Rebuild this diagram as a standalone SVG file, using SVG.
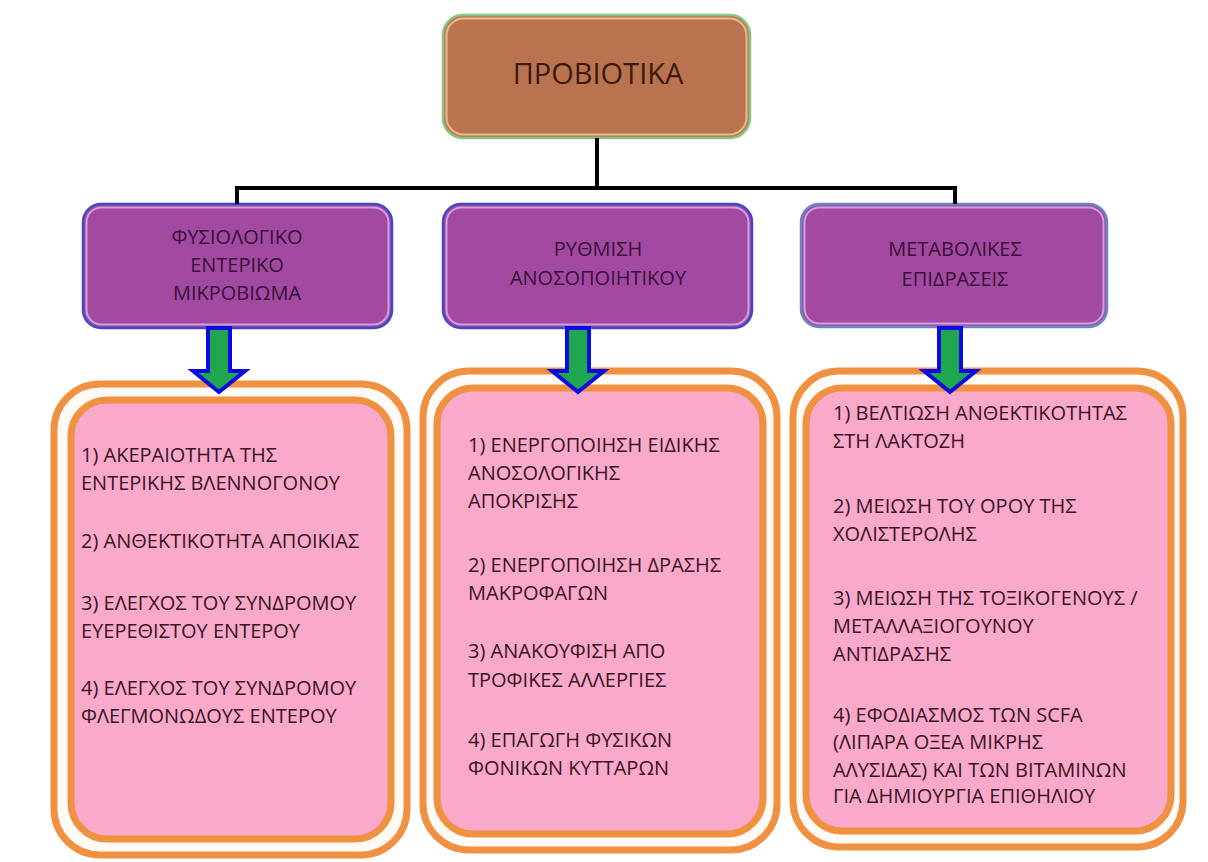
<svg xmlns="http://www.w3.org/2000/svg" width="1208" height="862" viewBox="0 0 1208 862">
<defs>
<style>
.top{fill:#b9744f;stroke:#86c47f;stroke-width:2.5}
.toprim{fill:none;stroke:#e9b98c;stroke-width:2}
.purple{fill:#a24aa2;stroke:#4646c8;stroke-width:2.5}
.prim{fill:none;stroke:#d3a0dc;stroke-width:2}
.ring{fill:#fffaf6;stroke:#ef9140;stroke-width:7}
.inner{fill:#f9a9c9;stroke:#ef9140;stroke-width:7}
.link{fill:none;stroke:#000;stroke-width:4}
.arrow{fill:#1fa64e;stroke:#0a0ae6;stroke-width:4;stroke-linejoin:miter}
text{font-family:"Open Sans","Liberation Sans",sans-serif;font-weight:500}
.tt{font-size:29px;fill:#3b1a12;text-anchor:middle}
.pt{font-size:20px;fill:#3a0f38;text-anchor:middle}
.bt{font-size:20px;fill:#3a1426}
</style>
</defs>
<g id="probiotika">
<rect class="top" x="443" y="15" width="307" height="123" rx="20"/>
<rect class="toprim" x="446.5" y="18.5" width="300" height="116" rx="17"/>
<text class="tt" x="598" y="84">ΠΡΟΒΙΟΤΙΚΑ</text>
</g>
<g id="fysiologiko">
<rect class="purple" x="83" y="204" width="309" height="124" rx="18"/>
<rect class="prim" x="86.5" y="207.5" width="302" height="117" rx="15"/>
<text class="pt" x="237" y="244">ΦΥΣΙΟΛΟΓΙΚΟ</text>
<text class="pt" x="237" y="272">ΕΝΤΕΡΙΚΟ</text>
<text class="pt" x="237" y="300">ΜΙΚΡΟΒΙΩΜΑ</text>
</g>
<g id="rythmisi">
<rect class="purple" x="443" y="204" width="309" height="124" rx="18"/>
<rect class="prim" x="446.5" y="207.5" width="302" height="117" rx="15"/>
<text class="pt" x="598" y="256">ΡΥΘΜΙΣΗ</text>
<text class="pt" x="598" y="285">ΑΝΟΣΟΠΟΙΗΤΙΚΟΥ</text>
</g>
<g id="metabolikes">
<rect class="purple" x="801" y="204" width="306" height="123" rx="18" style="stroke:#6a86c4"/>
<rect class="prim" x="804.5" y="207.5" width="299" height="116" rx="15"/>
<text class="pt" x="955" y="256">ΜΕΤΑΒΟΛΙΚΕΣ</text>
<text class="pt" x="955" y="286">ΕΠΙΔΡΑΣΕΙΣ</text>
</g>
<g id="box1">
<rect class="ring" x="54" y="384" width="353" height="471" rx="46"/>
<rect class="inner" x="71" y="400" width="320" height="439" rx="36"/>
<text class="bt" x="81" y="462">1) ΑΚΕΡΑΙΟΤΗΤΑ ΤΗΣ</text>
<text class="bt" x="81" y="490">ΕΝΤΕΡΙΚΗΣ ΒΛΕΝΝΟΓΟΝΟΥ</text>
<text class="bt" x="81" y="548">2) ΑΝΘΕΚΤΙΚΟΤΗΤΑ ΑΠΟΙΚΙΑΣ</text>
<text class="bt" x="81" y="610">3) ΕΛΕΓΧΟΣ ΤΟΥ ΣΥΝΔΡΟΜΟΥ</text>
<text class="bt" x="81" y="638">ΕΥΕΡΕΘΙΣΤΟΥ ΕΝΤΕΡΟΥ</text>
<text class="bt" x="81" y="695">4) ΕΛΕΓΧΟΣ ΤΟΥ ΣΥΝΔΡΟΜΟΥ</text>
<text class="bt" x="81" y="723">ΦΛΕΓΜΟΝΩΔΟΥΣ ΕΝΤΕΡΟΥ</text>
</g>
<g id="box2">
<rect class="ring" x="423" y="371" width="354" height="479" rx="46"/>
<rect class="inner" x="437" y="388" width="326" height="446" rx="36"/>
<text class="bt" x="468" y="452">1) ΕΝΕΡΓΟΠΟΙΗΣΗ ΕΙΔΙΚΗΣ</text>
<text class="bt" x="468" y="480">ΑΝΟΣΟΛΟΓΙΚΗΣ</text>
<text class="bt" x="468" y="508">ΑΠΟΚΡΙΣΗΣ</text>
<text class="bt" x="468" y="572">2) ΕΝΕΡΓΟΠΟΙΗΣΗ ΔΡΑΣΗΣ</text>
<text class="bt" x="468" y="600">ΜΑΚΡΟΦΑΓΩΝ</text>
<text class="bt" x="468" y="658">3) ΑΝΑΚΟΥΦΙΣΗ ΑΠΟ</text>
<text class="bt" x="468" y="687">ΤΡΟΦΙΚΕΣ ΑΛΛΕΡΓΙΕΣ</text>
<text class="bt" x="468" y="747">4) ΕΠΑΓΩΓΗ ΦΥΣΙΚΩΝ</text>
<text class="bt" x="468" y="775">ΦΟΝΙΚΩΝ ΚΥΤΤΑΡΩΝ</text>
</g>
<g id="box3">
<rect class="ring" x="793" y="371" width="390" height="476" rx="46"/>
<rect class="inner" x="806" y="388" width="365" height="443" rx="36"/>
<text class="bt" x="833" y="420">1) ΒΕΛΤΙΩΣΗ ΑΝΘΕΚΤΙΚΟΤΗΤΑΣ</text>
<text class="bt" x="833" y="448">ΣΤΗ ΛΑΚΤΟΖΗ</text>
<text class="bt" x="833" y="513">2) ΜΕΙΩΣΗ ΤΟΥ ΟΡΟΥ ΤΗΣ</text>
<text class="bt" x="833" y="541">ΧΟΛΙΣΤΕΡΟΛΗΣ</text>
<text class="bt" x="833" y="605">3) ΜΕΙΩΣΗ ΤΗΣ ΤΟΞΙΚΟΓΕΝΟΥΣ /</text>
<text class="bt" x="833" y="633">ΜΕΤΑΛΛΑΞΙΟΓΟΥΝΟΥ</text>
<text class="bt" x="833" y="661">ΑΝΤΙΔΡΑΣΗΣ</text>
<text class="bt" x="833" y="722">4) ΕΦΟΔΙΑΣΜΟΣ ΤΩΝ SCFA</text>
<text class="bt" x="833" y="749">(ΛΙΠΑΡΑ ΟΞΕΑ ΜΙΚΡΗΣ</text>
<text class="bt" x="833" y="777">ΑΛΥΣΙΔΑΣ) ΚΑΙ ΤΩΝ ΒΙΤΑΜΙΝΩΝ</text>
<text class="bt" x="833" y="803">ΓΙΑ ΔΗΜΙΟΥΡΓΙΑ ΕΠΙΘΗΛΙΟΥ</text>
</g>
<g id="connectors">
<path class="link" d="M597 138V188M237 188H955M237 186V204M955 186V204"/>
<path class="arrow" d="M208 328H230V371H245L219 392L193 371H208Z"/>
<path class="arrow" d="M567 328H589V371H604L578 392L552 371H567Z"/>
<path class="arrow" d="M939 328H961V371H976L950 392L924 371H939Z"/>
</g>
</svg>
